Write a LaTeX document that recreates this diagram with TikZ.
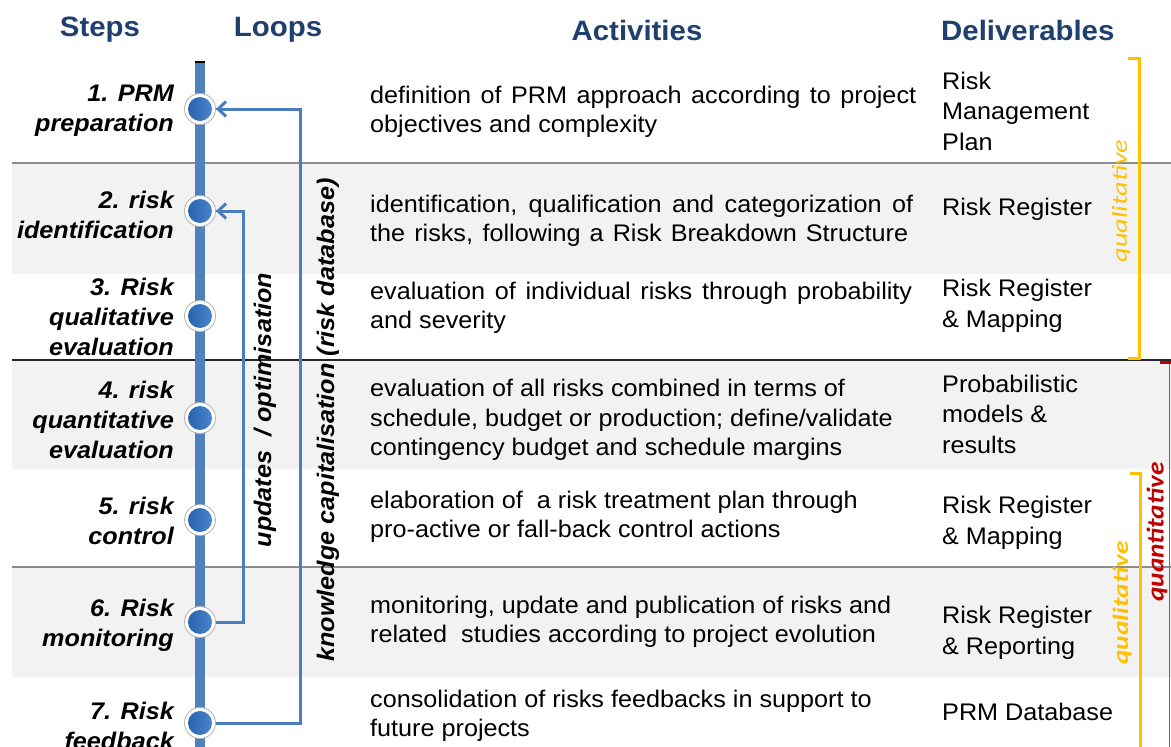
\documentclass[tikz,border=0pt]{standalone}
\usepackage{fontspec}
\setmainfont{Liberation Sans}[FakeStretch=1.05]
\newfontfamily\calib{Carlito}
\usetikzlibrary{arrows.meta}
\definecolor{hdr}{HTML}{1F3F6F}
\definecolor{rowgray}{HTML}{F2F2F2}
\definecolor{mainblue}{HTML}{4F81BD}
\definecolor{loopblue}{HTML}{4A7EC0}
\definecolor{dotL}{HTML}{2A64AE}
\definecolor{dotR}{HTML}{4A84CC}
\definecolor{gold}{HTML}{FFC000}
\definecolor{dred}{HTML}{C00000}
\newcommand{\jline}[2]{\makebox[#1][s]{#2}}
\begin{document}
\begin{tikzpicture}[x=1pt,y=-1pt,
  hdrtxt/.style={font=\fontsize{28}{32}\selectfont\bfseries, text=hdr, inner sep=0},
  steptxt/.style={font=\fontsize{24}{30}\selectfont\bfseries\itshape, align=right, anchor=east, inner sep=0},
  acttxt/.style={font=\fontsize{24}{29.5}\selectfont, align=left, anchor=west, inner sep=0},
  deltxt/.style={font=\fontsize{24}{30.5}\selectfont, align=left, anchor=west, inner sep=0},
  looptxt/.style={font=\fontsize{24}{29}\selectfont\bfseries\itshape, rotate=90, inner sep=0},
  dotout/.style={circle, minimum size=31pt, inner sep=0, fill=white, draw=black!30, line width=0.8pt},
  dotin/.style={circle, minimum size=24pt, inner sep=0, left color=dotL, right color=dotR},
  loopline/.style={draw=loopblue, line width=3pt, -{Straight Barb[length=8pt,width=15pt]}},
  loopshadow/.style={draw=black!55, line width=1.6pt, shift={(-1.5,-1.5)}},
  sepgray/.style={draw=black!45, line width=1.5pt},
  sepdark/.style={draw=black!85, line width=2.2pt},
  goldbr/.style={draw=gold, line width=3pt},
  brlabel/.style={rotate=90, inner sep=0},
]
\useasboundingbox (0,0) rectangle (1171,747);
\fill[white] (0,0) rectangle (1171,747);

% row shading and separators
\fill[rowgray] (12,163) rectangle (1171,274);
\fill[rowgray] (12,360) rectangle (1171,469);
\fill[rowgray] (12,567) rectangle (1171,677);
\draw[sepgray] (12,163) -- (1171,163);
\draw[sepdark] (12,360) -- (1171,360);
\draw[sepgray] (12,567) -- (1171,567);

% headers
\node[hdrtxt] (hsteps) at (100,30) {Steps};
\node[hdrtxt] (hloops) at (278,30) {Loops};
\node[hdrtxt] (hact) at (637,30) {Activities};
\node[hdrtxt, anchor=west] (hdel) at (941,30) {Deliverables};

% main axis
\coordinate (axtop) at (200,62);
\coordinate (axbot) at (200,750);
\draw[mainblue, line width=10pt] (axtop) -- (axbot);
\draw[black, line width=2pt] ([xshift=-5pt]axtop) -- ([xshift=5pt]axtop);

% step dots
\foreach \i/\y in {1/109,2/211,3/316,4/418,5/520,6/622,7/723}{
  \node[dotout] (c\i) at (200,\y) {};
  \node[dotin] (d\i) at (c\i) {};
}

% loops
\coordinate (ox) at (300,0);
\coordinate (ix) at (243,0);
\draw[loopshadow] (c7) -- (c7 -| ox) -- (c1 -| ox) -- (c1);
\draw[loopshadow] (c6) -- (c6 -| ix) -- (c2 -| ix) -- (c2);
\draw[loopline] (c7) -- (c7 -| ox) -- (c1 -| ox) -- (c1);
\draw[loopline] (c6) -- (c6 -| ix) -- (c2 -| ix) -- (c2);

\node[looptxt] (lupd) at (265,410) {updates\ \ / optimisation};
\node[looptxt] (lknow) at (328,420) {knowledge capitalisation (risk database)};

% steps
\node[steptxt] (s1) at (174,111) {1. PRM\\preparation};
\node[steptxt] (s2) at (174,215) {2. risk\\identification};
\node[steptxt] (s3) at (174,317) {3. Risk\\qualitative\\evaluation};
\node[steptxt] (s4) at (174,420) {4. risk\\quantitative\\evaluation};
\node[steptxt] (s5) at (174,521) {5. risk\\control};
\node[steptxt] (s6) at (174,625) {6. Risk\\monitoring};
\node[steptxt] (s7) at (174,726) {7. Risk\\feedback};

% activities
\node[acttxt] (a1) at (370,112) {\jline{546pt}{definition of PRM approach according to project}\\objectives and complexity};
\node[acttxt] (a2) at (370,221) {\jline{543pt}{identification, qualification and categorization of}\\\jline{538pt}{the risks, following a Risk Breakdown Structure}};
\node[acttxt] (a3) at (370,308) {\jline{542pt}{evaluation of individual risks through probability}\\and severity};
\node[acttxt] (a4) at (370,420) {evaluation of all risks combined in terms of\\schedule, budget or production; define/validate\\contingency budget and schedule margins};
\node[acttxt] (a5) at (370,517) {elaboration of\ \ a risk treatment plan through\\pro-active or fall-back control actions};
\node[acttxt] (a6) at (370,622) {monitoring, update and publication of risks and\\related\ \ studies according to project evolution};
\node[acttxt] (a7) at (370,716) {consolidation of risks feedbacks in support to\\future projects};

% deliverables
\node[deltxt] (v1) at (942,111) {Risk\\Management\\Plan};
\node[deltxt] (v2) at (942,209) {Risk Register};
\node[deltxt] (v3) at (942,306) {Risk Register\\\& Mapping};
\node[deltxt] (v4) at (942,414) {Probabilistic\\models \&\\results};
\node[deltxt] (v5) at (942,523) {Risk Register\\\& Mapping};
\node[deltxt] (v6) at (942,633) {Risk Register\\\& Reporting};
\node[deltxt] (v7) at (942,712) {PRM Database};

% brackets
\draw[goldbr] (1128,58) -- (1139,58) -- (1139,358) -- (1128,358);
\draw[goldbr] (1130,473) -- (1140,473) -- (1140,750);
\draw[dred!75, line width=1.2pt] (1169.5,362) -- (1169.5,750);
\draw[dred, line width=3pt] (1160,362) -- (1171,362);
\node[brlabel, text=gold] (q1) at (1121,201) {\resizebox{123pt}{15pt}{\calib\itshape qualitative}};
\node[brlabel, text=gold] (q2) at (1122,603) {\resizebox{123pt}{15.5pt}{\calib\bfseries\itshape qualitative}};
\node[brlabel, text=dred] (qt) at (1157,532) {\resizebox{139pt}{17pt}{\calib\bfseries\itshape quantitative}};
\end{tikzpicture}
\end{document}
